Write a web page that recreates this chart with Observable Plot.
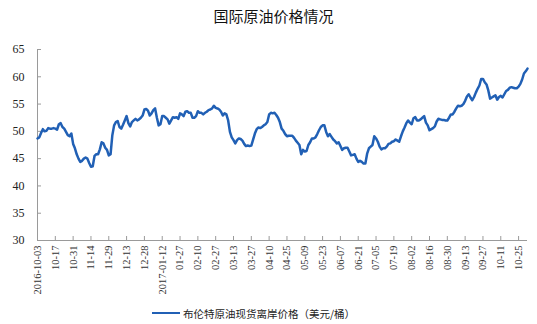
<!DOCTYPE html>
<html>
<head>
<meta charset="utf-8">
<script src="https://cdn.jsdelivr.net/npm/d3@7"></script>
<script src="https://cdn.jsdelivr.net/npm/@observablehq/plot@0.6"></script>
<style>
  html, body { margin: 0; padding: 0; background: #fff; }
  #wrap { position: relative; width: 537px; height: 324px; overflow: hidden; }
  #title { box-sizing: border-box; height: 40px; padding-top: 8px; padding-left: 10px; text-align: center;
           font: 15px "Noto Sans CJK SC", sans-serif; line-height: 16px; color: #111; }
  #legend { position: absolute; left: 152px; top: 304px; height: 18px; display: flex; align-items: center;
            font: 10.5px "Noto Sans CJK SC", sans-serif; color: #222; }
  #legend .sw { width: 28px; height: 0; border-top: 2.5px solid #2160b5; margin-right: 3px; }
</style>
</head>
<body>
<div id="wrap">
  <div id="title">国际原油价格情况</div>
  <div id="chart"></div>
  <div id="legend"><span class="sw"></span><span>布伦特原油现货离岸价格（美元/桶）</span></div>
</div>
<script>
// Trading-day tick labels (every 10 trading days)
const tickLabels = ["2016-10-03","10-17","10-31","11-14","11-29","12-13","12-28","2017-01-12","01-27","02-10",
  "02-27","03-13","03-27","04-10","04-25","05-09","05-23","06-07","06-21","07-05",
  "07-19","08-02","08-16","08-30","09-13","09-27","10-11","10-25"];

// Brent spot FOB price (USD/bbl), one value per trading day
const brent = [
  48.7, 48.9, 49.7, 50.4, 50.0, 50.1, 50.6, 50.5, 50.5, 50.6,
  50.5, 50.3, 51.3, 51.5, 50.8, 50.5, 49.9, 49.3, 49.1, 49.6,
  47.7, 46.9, 45.8, 45.0, 44.4, 44.6, 45.0, 45.2, 45.0, 44.2,
  43.5, 43.6, 45.5, 45.8, 45.8, 46.7, 48.0, 47.8, 47.0, 46.6,
  45.6, 45.8, 49.3, 51.1, 51.7, 51.9, 50.8, 50.5, 51.2, 52.0,
  52.8, 51.5, 50.9, 51.7, 52.0, 52.3, 52.0, 52.2, 52.5, 52.9,
  54.0, 54.1, 53.8, 52.9, 53.3, 53.9, 54.2, 52.5, 51.1, 51.3,
  52.8, 52.8, 52.5, 52.2, 51.4, 52.0, 52.6, 52.5, 52.6, 52.3,
  53.3, 53.1, 52.8, 53.6, 53.7, 53.4, 53.4, 52.5, 52.5, 52.8,
  53.7, 53.4, 53.4, 53.1, 53.4, 53.6, 53.9, 54.0, 54.2, 54.7,
  54.3, 54.2, 54.0, 53.6, 52.9, 53.3, 53.1, 52.0, 49.9, 48.9,
  48.4, 47.8, 48.4, 48.7, 48.6, 48.3, 47.7, 47.3, 47.4, 47.3,
  47.4, 48.5, 49.6, 50.4, 50.7, 50.6, 50.8, 51.1, 51.3, 51.7,
  53.1, 53.4, 53.3, 53.4, 53.0, 52.5, 51.7, 50.5, 50.1, 49.5,
  49.1, 49.2, 49.2, 49.2, 48.8, 48.3, 47.9, 47.5, 45.8, 46.6,
  46.3, 46.4, 47.5, 48.0, 48.7, 48.7, 48.9, 49.5, 50.2, 50.8,
  51.1, 51.1, 49.9, 49.1, 49.5, 49.0, 48.5, 48.2, 47.8, 48.0,
  47.3, 46.6, 46.9, 47.0, 47.0, 46.3, 45.6, 45.7, 45.8, 45.0,
  44.4, 44.6, 44.4, 44.1, 44.1, 45.9, 46.9, 47.2, 47.5, 49.1,
  48.7, 48.1, 47.2, 46.7, 46.9, 46.9, 47.2, 47.7, 47.8, 48.1,
  48.2, 48.5, 48.3, 48.1, 49.1, 50.0, 50.7, 51.5, 52.0, 51.6,
  51.3, 52.4, 52.6, 52.0, 52.0, 52.2, 52.5, 52.8, 51.6, 51.1,
  50.2, 50.4, 50.6, 50.9, 51.8, 52.3, 52.2, 52.1, 52.1, 52.0,
  52.0, 52.5, 53.1, 53.1, 53.6, 54.2, 54.7, 54.6, 54.7, 55.0,
  55.6, 56.4, 56.8, 56.2, 55.7, 56.3, 57.1, 57.8, 58.4, 59.6,
  59.6, 59.0, 58.6, 57.5, 56.0, 56.2, 56.4, 56.6, 55.8, 56.3,
  56.5, 56.2, 56.8, 57.4, 57.6, 58.0, 58.1, 58.0, 57.9, 57.9,
  58.2, 58.7, 59.5, 60.6, 61.0, 61.5
];
const yTicks = [30, 35, 40, 45, 50, 55, 60, 65];
const tickStep = 10;

const data = brent.map((v, i) => ({ i, v }));
const xTicks = tickLabels.map((_, k) => k * tickStep);

const serif = "'Liberation Serif', 'Times New Roman', serif";

const chart = Plot.plot({
  width: 537,
  height: 262,
  marginTop: 9,
  marginBottom: 62,
  marginLeft: 37,
  marginRight: 10,
  style: { fontFamily: serif, color: "#222", background: "transparent" },
  x: { domain: [0, brent.length - 1], label: null },
  y: { domain: [30, 65], label: null },
  marks: [
    Plot.ruleY([30], { stroke: "#9a9a9a", strokeWidth: 1 }),
    Plot.ruleX([0], { stroke: "#9a9a9a", strokeWidth: 1 }),
    Plot.axisY({ ticks: yTicks, tickSize: -4, stroke: "#9a9a9a", text: null, label: null }),
    Plot.axisY({ ticks: yTicks, tickSize: 0, tickPadding: 13, fontSize: 12, label: null, fill: "#222" }),
    Plot.axisX({ ticks: xTicks, tickSize: -4, stroke: "#9a9a9a", text: null, label: null }),
    Plot.axisX({ ticks: xTicks, tickSize: 0, tickPadding: 5, tickRotate: -90, fontSize: 10.5, label: null,
      tickFormat: d => tickLabels[Math.round(d / tickStep)], fill: "#333" }),
    Plot.line(data, { x: "i", y: "v", stroke: "#2160b5", strokeWidth: 2.5, strokeLinejoin: "round" })
  ]
});
document.getElementById("chart").appendChild(chart);
</script>
</body>
</html>
